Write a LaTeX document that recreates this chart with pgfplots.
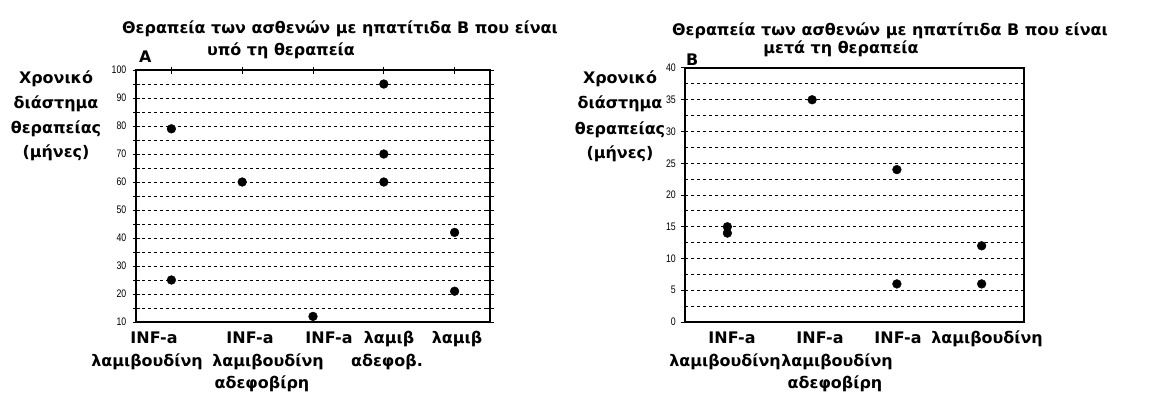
\documentclass[border=0pt]{standalone}
\usepackage{fontspec}
\setmainfont{DejaVu Sans}
\newfontfamily\numfont[FakeStretch=0.8]{Liberation Sans}
\usepackage{pgfplots}
\pgfplotsset{compat=1.18}
\newcommand{\tf}{\fontsize{16}{21}\selectfont\bfseries}
\newcommand{\nf}{\numfont\fontsize{11}{12}\selectfont}
\pgfplotsset{
  base/.style={
    scale only axis, clip=false,
    axis line style={line width=1.4bp},
    /pgf/number format/assume math mode=true,
    yticklabel style={font=\nf, inner sep=1bp},
    xticklabels={},
    grid style={black, line width=0.9bp, dash pattern=on 3bp off 3bp},
    ymajorgrids, yminorgrids,
  },
  dots/.style={black, only marks, mark=*, mark size=4.4bp, mark options={fill=black, draw=black}},
}
\begin{document}
\begin{tikzpicture}[x=1bp,y=1bp]
% Chart A
\begin{axis}[base,
  at={(136bp,75bp)}, anchor=south west, width=354bp, height=252bp,
  xmin=0.5, xmax=5.5, ymin=10, ymax=100,
  xtick={1,2,3,4,5},
  xtick pos=right,
  ytick={10,20,...,100}, minor ytick={15,25,...,95},
  ytick pos=both,
  yticklabel style={xshift=-5bp},
  tick align=center, major tick length=7bp, minor tick length=7bp,
  tick style={black, line width=1bp},
]
\addplot[dots] coordinates {(1,79)(1,25)(2,60)(3,12)(4,95)(4,70)(4,60)(5,42)(5,21)};
\end{axis}
% Chart B
\begin{axis}[base,
  at={(685bp,75bp)}, anchor=south west, width=339bp, height=254bp,
  xmin=0.5, xmax=4.5, ymin=0, ymax=40,
  xtick={1,2,3,4},
  major x tick style={draw=none},
  ytick={0,5,...,40}, minor ytick={2.5,7.5,...,37.5},
  ytick pos=left, xtick pos=left,
  yticklabel style={xshift=-4bp},
  tick align=outside, major tick length=4bp, minor tick length=0bp,
  tick style={black, line width=1bp},
]
\addplot[dots] coordinates {(1,15)(1,14)(2,35)(3,24)(3,6)(4,12)(4,6)};
\end{axis}
% category labels A
\begin{scope}[every node/.style={font=\tf, anchor=base, inner sep=0}]
\node at (154,54) {INF-a};
\node at (147,31) {λαμιβουδίνη};
\node at (250,54) {INF-a};
\node at (268,31) {λαμιβουδίνη};
\node at (262,9) {αδεφοβίρη};
\node at (329,54) {INF-a};
\node at (389,54) {λαμιβ};
\node at (387,31) {αδεφοβ.};
\node at (457,54) {λαμιβ};
% category labels B
\node at (732,54) {INF-a};
\node at (725,31) {λαμιβουδίνη};
\node at (820,54) {INF-a};
\node at (837,31) {λαμιβουδίνη};
\node at (835,9) {αδεφοβίρη};
\node at (898,54) {INF-a};
\node at (987,54) {λαμιβουδίνη};
\end{scope}
% titles
\node[font=\tf, anchor=base] at (340,364) {Θεραπεία των ασθενών με ηπατίτιδα Β που είναι};
\node[font=\tf, anchor=base] at (281,342) {υπό τη θεραπεία};
\node[font=\tf, anchor=base west, inner sep=0] at (139,335) {A};
\node[font=\tf, anchor=base] at (890,362) {Θεραπεία των ασθενών με ηπατίτιδα Β που είναι};
\node[font=\tf, anchor=base] at (841,344) {μετά τη θεραπεία};
\node[font=\tf, anchor=base west, inner sep=0] at (686,332) {B};
% y labels
\foreach \t/\y in {Χρονικό/314, διάστημα/289, θεραπείας/264, (μήνες)/240}
  \node[font=\tf, anchor=base] at (56,\y) {\t};
\foreach \t/\y in {Χρονικό/314, διάστημα/289, θεραπείας/263, (μήνες)/239}
  \node[font=\tf, anchor=base] at (620,\y) {\t};
\path (0,0) rectangle (1170,397);
\end{tikzpicture}
\end{document}
